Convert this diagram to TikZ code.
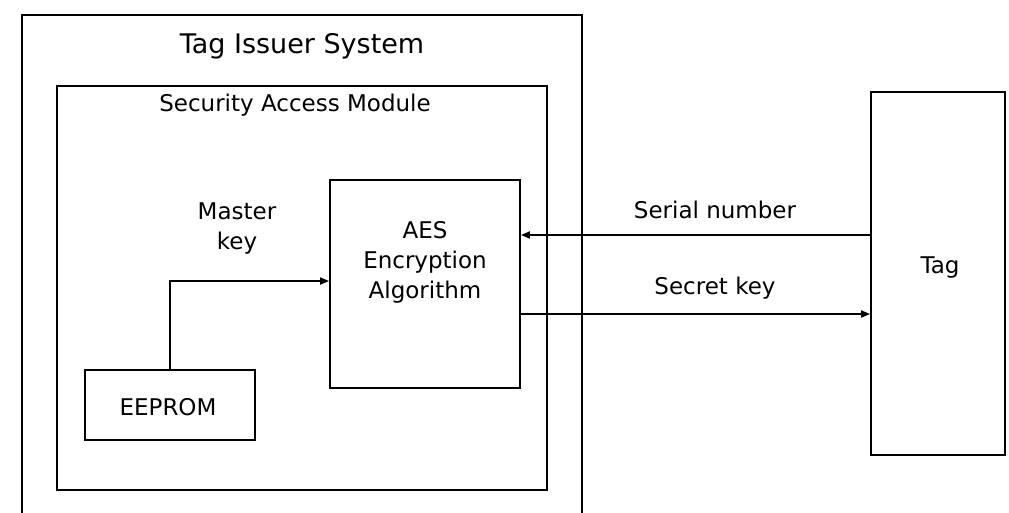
\documentclass[tikz,border=0pt]{standalone}
\usepackage{fontspec}
\setmainfont{DejaVu Sans}
\usetikzlibrary{arrows.meta,positioning}

\begin{document}
\begin{tikzpicture}[x=1pt,y=-1pt,
    blk/.style={rectangle,draw,line width=1.8pt,inner sep=0pt},
    txt/.style={font=\fontsize{23}{30}\selectfont,align=center},
    >={Triangle[length=9pt,width=7pt]}]
\clip (0,0) rectangle (1009,512);
% the outer box runs on past the lower edge
\path
  (302,272) node(sys) [blk,minimum width=560pt,minimum height=514pt] {}
  (302,288) node(sam) [blk,minimum width=490pt,minimum height=404pt] {}
  (425,284) node(aes) [blk,minimum width=190pt,minimum height=208pt] {}
  (170,405) node(eeprom) [blk,minimum width=170pt,minimum height=70pt] {}
  (938,273.5) node(tag) [blk,minimum width=134pt,minimum height=363pt] {};
\path
  (302,46) node(systxt) [txt,font=\fontsize{27}{30}\selectfont] {Tag Issuer System}
  (295,105) node(samtxt) [txt] {Security Access Module}
  (237,229) node(mkey) [txt] {Master\\key}
  (425,262) node(aestxt) [txt] {AES\\Encryption\\Algorithm}
  (168,407) node(eeptxt) [txt] {EEPROM}
  (940,268) node(tagtxt) [txt] {Tag}
  (715,210) node(sntxt) [txt] {Serial number}
  (715,288) node(sktxt) [txt] {Secret key};
\coordinate (mk) at (0,281);
\coordinate (sn) at (0,235);
\coordinate (sk) at (0,314);
\draw[->,line width=1.8pt] (eeprom.north) |- (aes.west |- mk);
\draw[->,line width=1.8pt] (tag.west |- sn) -- (aes.east |- sn);
\draw[->,line width=1.8pt] (aes.east |- sk) -- (tag.west |- sk);
\end{tikzpicture}
\end{document}
